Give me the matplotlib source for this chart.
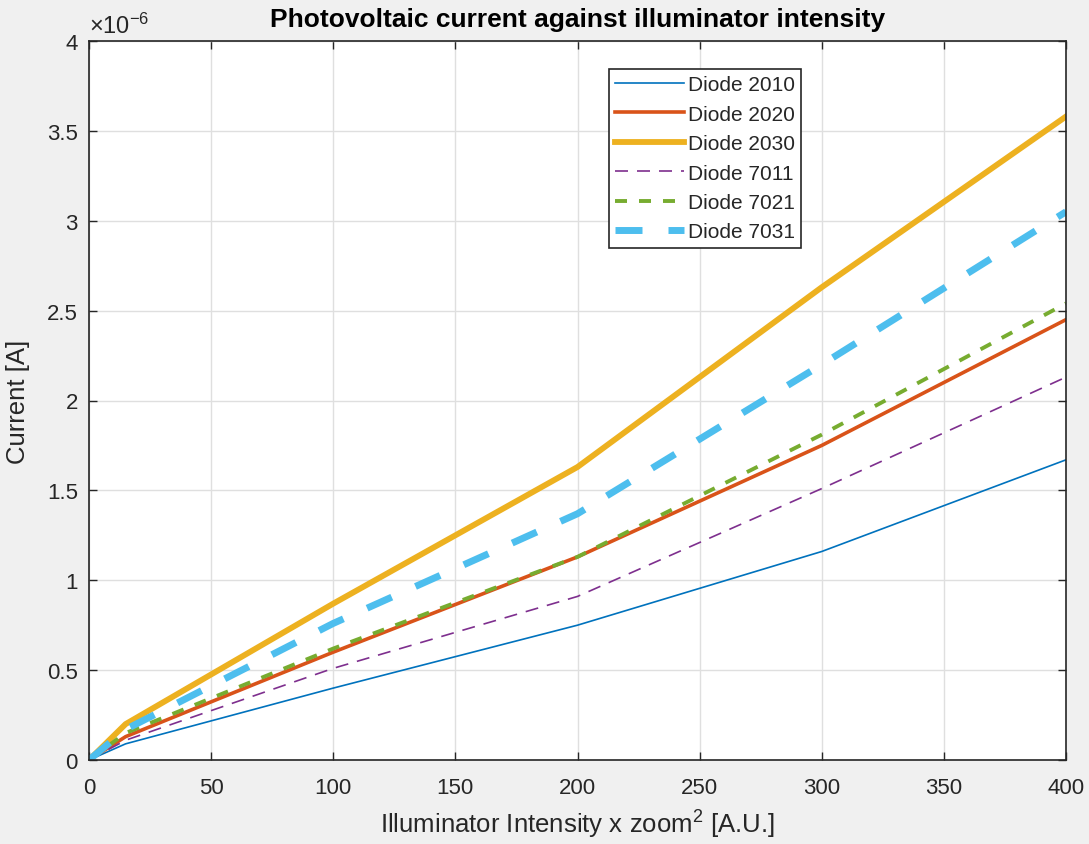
import matplotlib
matplotlib.use("Agg")
import matplotlib.pyplot as plt
from matplotlib.ticker import MultipleLocator, FuncFormatter

plt.rcParams['font.family'] = ['Liberation Sans', 'DejaVu Sans']
plt.rcParams['lines.scale_dashes'] = False
plt.rcParams['mathtext.fontset'] = 'custom'
plt.rcParams['mathtext.rm'] = 'Liberation Sans'
plt.rcParams['mathtext.it'] = 'Liberation Sans'

# Data (current in units of 1e-6 A)
intensity = [0, 15, 100, 200, 300, 400]
diode_2010 = [0, 0.09, 0.40, 0.75, 1.16, 1.67]
diode_2020 = [0, 0.13, 0.60, 1.13, 1.75, 2.45]
diode_2030 = [0, 0.20, 0.87, 1.63, 2.63, 3.58]
diode_7011 = [0, 0.11, 0.51, 0.91, 1.51, 2.13]
diode_7021 = [0, 0.15, 0.62, 1.13, 1.81, 2.54]
diode_7031 = [0, 0.17, 0.76, 1.37, 2.20, 3.05]
labels = ['Diode 2010', 'Diode 2020', 'Diode 2030', 'Diode 7011', 'Diode 7021', 'Diode 7031']

fig = plt.figure(figsize=(10.89, 8.45), dpi=100, facecolor='#F0F0F0')
ax = fig.add_axes([89/1089, 1-761/845, (1066-89)/1089, (761-42)/845])
ax.set_facecolor('white')

px = 1/1.389  # points per pixel at 100 dpi
series = [diode_2010, diode_2020, diode_2030, diode_7011, diode_7021, diode_7031]
colors = ['#0072BD', '#D95319', '#EDB120', '#7E2F8E', '#77AC30', '#4DBEEE']
widths = [1.2, 2.6, 4.2, 1.2, 2.8, 5.0]
dashes = [None, None, None, (0, (13*px, 9*px)), (0, (12*px, 12*px)), (0, (27*px, 26*px))]

for y, c, w, d, lab in zip(series, colors, widths, dashes, labels):
    kw = {}
    if d is not None:
        kw['linestyle'] = d
    ax.plot(intensity, y, color=c, linewidth=w, label=lab, **kw)

ax.set_xlim(0, 400)
ax.set_ylim(0, 4)
ax.xaxis.set_major_locator(MultipleLocator(50))
ax.yaxis.set_major_locator(MultipleLocator(0.5))
ax.yaxis.set_major_formatter(FuncFormatter(lambda v, p: f"{v:g}"))
ax.xaxis.set_major_formatter(FuncFormatter(lambda v, p: f"{v:g}"))

ax.grid(True, color='#DFDFDF', linewidth=1)
ax.set_axisbelow(True)
ax.tick_params(direction='in', top=True, right=True, length=6, width=1,
               colors='#262626', labelsize=16, labelcolor='#262626')
ax.tick_params(axis='y', pad=8)
ax.tick_params(axis='x', pad=12)
for s in ax.spines.values():
    s.set_color('#262626')
    s.set_linewidth(1.2)

ax.text(0.0, 1.004, r'$\times$10$^{-6}$', transform=ax.transAxes, fontsize=17,
        color='#262626', ha='left', va='bottom')

ax.set_title('Photovoltaic current against illuminator intensity', fontsize=19,
             fontweight='bold', color='black', pad=11)
ax.set_xlabel('Illuminator Intensity x zoom$^2$ [A.U.]', fontsize=18.5, color='#262626', labelpad=7)
ax.set_ylabel('Current [A]', fontsize=18.5, color='#262626', labelpad=12)

leg = ax.legend(loc='upper right', bbox_to_anchor=((801-89)/977, (761-70)/719),
                fontsize=15, handlelength=3.3, fancybox=False, framealpha=1,
                edgecolor='#262626', borderpad=0.3, labelspacing=0.5, handletextpad=0.2,
                borderaxespad=0)
leg.get_frame().set_linewidth(1.2)
for t in leg.get_texts():
    t.set_color('#262626')

fig.savefig('out.png', dpi=100, facecolor=fig.get_facecolor())
